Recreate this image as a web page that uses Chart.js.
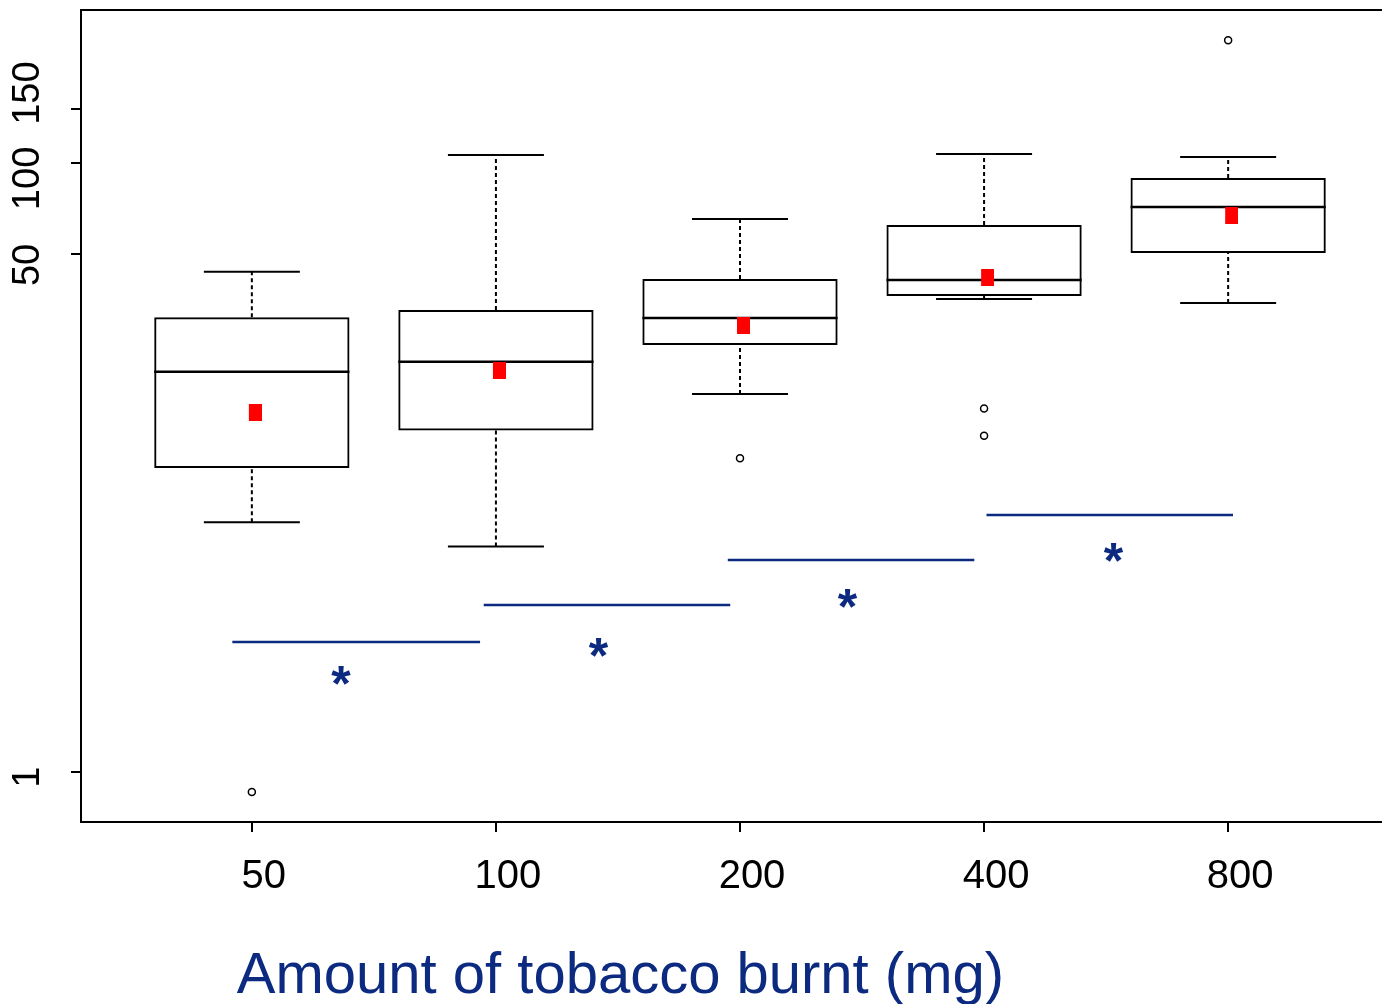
<!DOCTYPE html>
<html>
<head>
<meta charset="utf-8">
<script src="https://cdn.jsdelivr.net/npm/chart.js@4.4.1/dist/chart.umd.min.js"></script>
<style>
    html, body { margin: 0; padding: 0; overflow: hidden; background: #fff; }
    #wrap { width: 1400px; height: 1004px; }
</style>
</head>
<body>
<div id="wrap"><canvas id="boxChart" width="1400" height="1004"></canvas></div>
<script>
// categories (amount of tobacco, mg) and their x positions
const doses = ['50', '100', '200', '400', '800'];
const positions = [1, 2, 3, 4, 5];

// box plot summaries
const whiskerLow = [6.6, 5.5, 17.4, 35.7, 34.6];
const quartile1 = [9.95, 13.2, 25.2, 36.5, 50.5];
const medians = [20.6, 22.2, 30.9, 41.2, 71.5];
const quartile3 = [31.1, 32.8, 41.5, 62.4, 89.0];
const whiskerHigh = [43.8, 105.9, 65.3, 106.7, 104.3];
const means = [15.1, 20.8, 29.2, 42.1, 66.8];

// outliers
const outlierX = [1, 3, 4, 4, 5];
const outlierY = [0.86, 10.7, 15.6, 12.7, 252];

// significance bars and their stars
const sigFrom = [0.92, 1.95, 2.95, 4.01];
const sigTo = [1.935, 2.96, 3.96, 5.02];
const sigLevel = [2.67, 3.53, 4.96, 6.97];
const starX = [1.365, 2.42, 3.44, 4.53];
const starY = [2.08, 2.57, 3.72, 5.27];

// y axis ticks
const yTicks = [1, 50, 100, 150];
const yTickLabels = ['1', '50', '100', '150'];

const xTitle = 'Amount of tobacco burnt (mg)';
const navy = '#0b2a80';
const family = '"Liberation Sans", Arial, sans-serif';

// the original's rotated y labels sit a bit off their ticks (negative = up)
const yLabelNudge = [1, 2, 3, -3];

Chart.defaults.font.family = family;

function nudgeLabel(text, n) {
    const pad = ' '.repeat(Math.abs(n));
    return n < 0 ? pad + text : text + pad;
}

document.addEventListener('DOMContentLoaded', function () {
    // red mean marker, nudged a little right like the original
    const meanMark = document.createElement('canvas');
    meanMark.width = 20;
    meanMark.height = 17;
    const mctx = meanMark.getContext('2d');
    mctx.fillStyle = '#ff0000';
    mctx.fillRect(7, 0, 13, 17);

    const whiskerPts = [];
    positions.forEach((x, i) => {
        whiskerPts.push({ x, y: whiskerLow[i] }, { x, y: quartile1[i] }, { x, y: null });
        whiskerPts.push({ x, y: quartile3[i] }, { x, y: whiskerHigh[i] }, { x, y: null });
    });

    const sigPts = [];
    sigFrom.forEach((x0, i) => {
        sigPts.push({ x: x0, y: sigLevel[i] }, { x: sigTo[i], y: sigLevel[i] }, { x: sigTo[i], y: null });
    });

    const annotations = {
        id: 'annotations',
        afterDatasetsDraw(chart) {
            const { ctx, scales: { x, y } } = chart;
            ctx.save();
            ctx.fillStyle = navy;
            ctx.textAlign = 'center';
            ctx.textBaseline = 'alphabetic';
            ctx.font = 'bold 50px ' + family;
            const m = ctx.measureText('*');
            const shift = (m.actualBoundingBoxAscent - m.actualBoundingBoxDescent) / 2;
            starX.forEach((sx, i) => {
                ctx.fillText('*', x.getPixelForValue(sx), y.getPixelForValue(starY[i]) + shift);
            });
            ctx.font = '58px ' + family;
            ctx.fillText(xTitle, x.getPixelForValue(2.51), chart.height - 11);
            ctx.restore();
        }
    };

    const axisGrid = { display: true, offset: false, drawOnChartArea: false, drawTicks: true, tickLength: 10, color: '#000', lineWidth: 2 };
    const axisBorder = { display: true, color: '#000', width: 2 };

    new Chart(document.getElementById('boxChart'), {
        type: 'scatter',
        data: {
            datasets: [
                {
                    label: 'mean',
                    type: 'scatter',
                    order: 0,
                    data: positions.map((x, i) => ({ x, y: means[i] })),
                    pointStyle: meanMark,
                    pointRadius: 8
                },
                {
                    label: 'outliers',
                    type: 'scatter',
                    order: 1,
                    data: outlierX.map((x, i) => ({ x, y: outlierY[i] })),
                    pointStyle: 'circle',
                    pointRadius: 3.5,
                    borderWidth: 1.5,
                    borderColor: '#000',
                    backgroundColor: '#fff'
                },
                {
                    label: 'median',
                    type: 'scatter',
                    order: 2,
                    data: positions.map((x, i) => ({ x, y: medians[i] })),
                    pointStyle: 'line',
                    pointRadius: 97.6,
                    borderWidth: 2.5,
                    borderColor: '#000'
                },
                {
                    label: 'box',
                    type: 'bar',
                    order: 3,
                    data: positions.map((x, i) => ({ x, y: [quartile1[i], quartile3[i]] })),
                    backgroundColor: 'rgba(255,255,255,0)',
                    borderColor: '#000',
                    borderWidth: 2,
                    borderSkipped: false,
                    barPercentage: 0.8,
                    categoryPercentage: 1.0
                },
                {
                    label: 'whiskers',
                    type: 'line',
                    order: 4,
                    data: whiskerPts,
                    borderColor: '#000',
                    borderWidth: 2,
                    borderDash: [4, 3],
                    pointRadius: 0,
                    spanGaps: false,
                    fill: false
                },
                {
                    label: 'caps',
                    type: 'scatter',
                    order: 4,
                    data: positions.flatMap((x, i) => [{ x, y: whiskerLow[i] }, { x, y: whiskerHigh[i] }]),
                    pointStyle: 'line',
                    pointRadius: 48,
                    borderWidth: 2,
                    borderColor: '#000'
                },
                {
                    label: 'significance',
                    type: 'line',
                    order: 5,
                    data: sigPts,
                    borderColor: navy,
                    borderWidth: 2.5,
                    pointRadius: 0,
                    spanGaps: false,
                    fill: false
                }
            ]
        },
        options: {
            responsive: false,
            animation: false,
            events: [],
            devicePixelRatio: 1,
            layout: { autoPadding: false, padding: { top: 10, right: 1, bottom: 0, left: 0 } },
            plugins: {
                legend: { display: false },
                tooltip: { enabled: false }
            },
            scales: {
                x: {
                    type: 'linear',
                    position: 'bottom',
                    offset: false,
                    min: 0.3,
                    max: 5.7,
                    afterBuildTicks: s => { s.ticks = positions.map(v => ({ value: v })); },
                    afterFit: s => { s.height = 182; s.paddingLeft = 0; s.paddingRight = 0; },
                    ticks: {
                        callback: (v, i) => doses[i],
                        font: { size: 40 },
                        color: '#000',
                        padding: 21,
                        labelOffset: 12,
                        maxRotation: 0,
                        autoSkip: false
                    },
                    grid: axisGrid,
                    border: axisBorder
                },
                xTop: {
                    type: 'linear',
                    position: 'top',
                    offset: false,
                    min: 0,
                    max: 1,
                    ticks: { display: false },
                    grid: { display: true, offset: false, drawOnChartArea: false, drawTicks: false },
                    border: axisBorder
                },
                y: {
                    type: 'logarithmic',
                    position: 'left',
                    min: 0.6855,
                    max: 316.8,
                    afterBuildTicks: s => { s.ticks = yTicks.map(v => ({ value: v })); },
                    afterFit: s => { s.width = 81; s.paddingTop = 0; s.paddingBottom = 0; },
                    ticks: {
                        callback: (v, i) => nudgeLabel(yTickLabels[i], yLabelNudge[i]),
                        font: { size: 38 },
                        color: '#000',
                        minRotation: 90,
                        maxRotation: 90,
                        crossAlign: 'center',
                        padding: -5,
                        autoSkip: false
                    },
                    grid: axisGrid,
                    border: axisBorder
                }
            }
        },
        plugins: [annotations]
    });
});
</script>
</body>
</html>
